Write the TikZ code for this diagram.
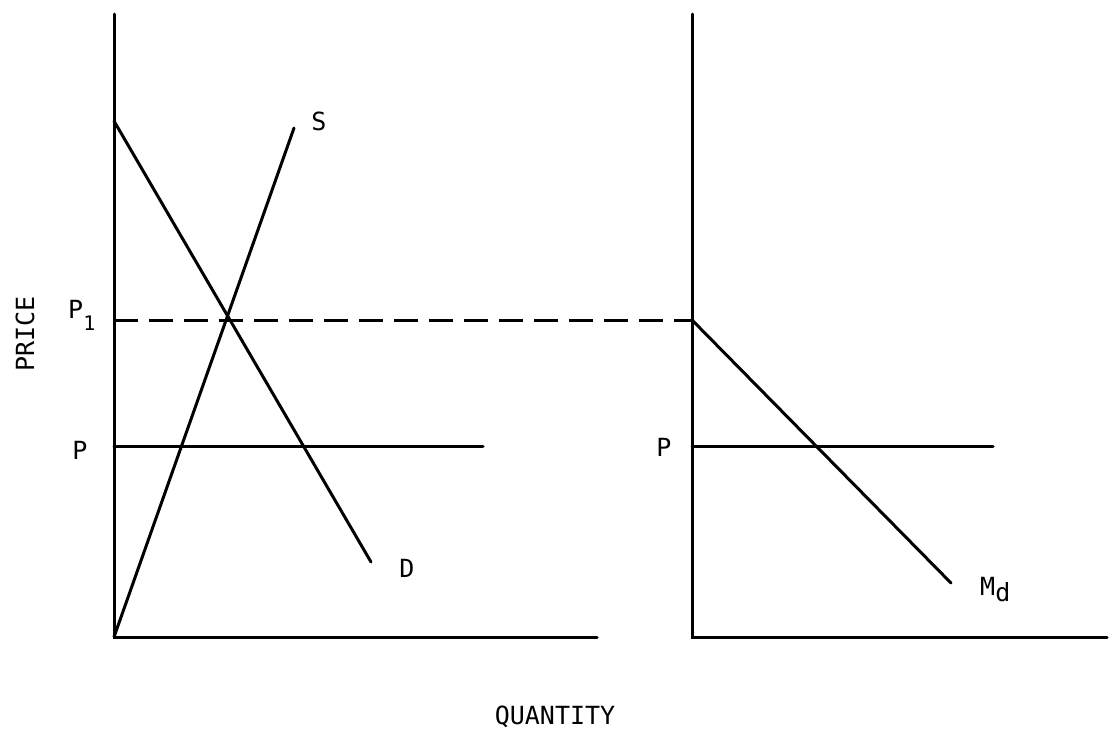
\documentclass[tikz,border=0pt]{standalone}
\usepackage{fontspec}
\setmonofont{DejaVu Sans Mono}
\begin{document}
\begin{tikzpicture}[x=1pt,y=-1pt,
  ln/.style={line width=3pt,line cap=round},
  lbl/.style={font=\ttfamily\fontsize{25}{25}\selectfont,inner sep=0pt}]
\useasboundingbox (0,0) rectangle (1110,734);
% left axes
\coordinate (LO) at (114,637);
\coordinate (LT) at (114,14);
\coordinate (LX) at (597,637);
% right axes
\coordinate (RO) at (692,637);
\coordinate (RT) at (692,14);
\coordinate (RX) at (1107,637);
\draw[ln] (LT) -- (LO) -- (LX);
\draw[ln] (RT) -- (RO) -- (RX);
% demand & supply
\coordinate (Dtop) at (114,121);
\coordinate (Dbot) at (371,562);
\coordinate (Stop) at (294,128);
\draw[ln] (Dtop) -- (Dbot);
\draw[ln] (LO) -- (Stop);
% price lines
\coordinate (P1L) at (114,320);
\coordinate (P1R) at (692,320);
\draw[ln,line cap=butt,dash pattern=on 24pt off 11pt] (P1L) -- (P1R);
\coordinate (PLa) at (114,446);
\coordinate (PLb) at (483,446);
\draw[ln] (PLa) -- (PLb);
\coordinate (PRa) at (692,446);
\coordinate (PRb) at (993,446);
\draw[ln] (PRa) -- (PRb);
% Md
\coordinate (Mbot) at (951,583);
\draw[ln] (P1R) -- (Mbot);
% labels
\node[lbl] (S) at (319,121) {S};
\node[lbl] (D) at (407,568) {D};
\node[lbl,anchor=west] (Md) at (980,590) {M\raisebox{-6pt}{d}};
\node[lbl] (Pr) at (664,447) {P};
\node[lbl] (Pl) at (80,450) {P};
\node[lbl,anchor=west] (P1) at (68,315) {P\raisebox{-12pt}{\fontsize{20}{20}\selectfont 1}};
\node[lbl,rotate=90] (price) at (25,334) {PRICE};
\node[lbl] (qty) at (555,717) {QUANTITY};
\end{tikzpicture}
\end{document}
